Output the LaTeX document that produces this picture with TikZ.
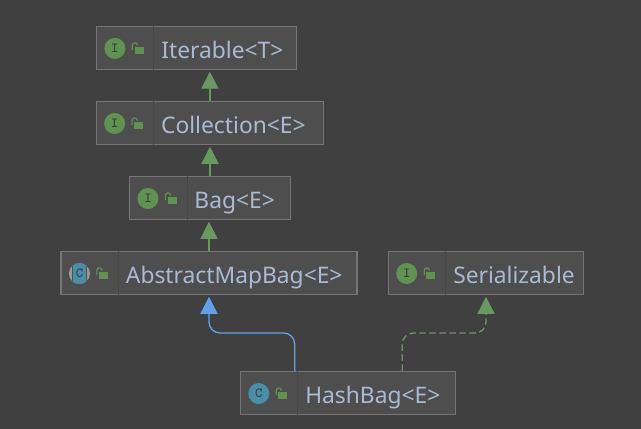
\documentclass[tikz,border=0pt]{standalone}
\usepackage{fontspec}
\setmainfont{Noto Sans}
\usetikzlibrary{arrows.meta, calc, positioning}
\definecolor{canvasbg}{HTML}{404040}
\definecolor{boxbg}{HTML}{4E4E4E}
\definecolor{boxline}{HTML}{767676}
\definecolor{boxdiv}{HTML}{484848}
\definecolor{labeltext}{HTML}{A9BBD3}
\definecolor{implgreen}{HTML}{689A60}
\definecolor{extblue}{HTML}{62A0EA}
\definecolor{icongreen}{HTML}{5F9350}
\definecolor{iconteal}{HTML}{4A8FA8}
\definecolor{icongray}{HTML}{9A9A9A}
\definecolor{icontext}{HTML}{3C3F41}

\begin{document}
\begin{tikzpicture}[x=1pt, y=-1pt]
\tikzset{
  classbox/.style={draw=boxline, fill=boxbg, line width=1.1pt, minimum height=43.4pt, inner sep=0pt},
  classname/.style={anchor=base west, inner sep=0pt, text=labeltext, font=\fontsize{22.8}{26}\selectfont},
  iconbase/.style={circle, minimum size=21pt, inner sep=0pt, text=icontext, font=\ttfamily\bfseries\fontsize{14}{14}\selectfont},
  iconI/.style={iconbase, fill=icongreen},
  iconC/.style={iconbase, fill=iconteal},
  iconA/.style={iconbase, fill=icongray, path picture={
    \fill[boxbg] ($(path picture bounding box.west)+(3,-12)$) rectangle ($(path picture bounding box.east)+(-3,12)$);
    \fill[iconteal] ($(path picture bounding box.west)+(4,-12)$) rectangle ($(path picture bounding box.east)+(-4,12)$);
  }},
  gen/.style={draw=implgreen, line width=1.3pt, shorten >=1.5pt, -{Triangle[length=17pt,width=17pt]}},
  ext/.style={gen, draw=extblue, rounded corners=11pt},
  impl/.style={gen, rounded corners=11pt, dash pattern=on 6.5pt off 3.5pt}
}
  \fill[canvasbg] (0,0) rectangle (641,429);
  \useasboundingbox (0,0) rectangle (641,429);

  % class boxes: name/center x/center y/width/icon/letter/label
  \foreach \nm/\cx/\cy/\w/\ic/\ltr/\lbl in {
    Iterable/196.5/47.9/200.2/I/I/{Iterable<T>},
    Collection/209.9/123/227.4/I/I/{Collection<E>},
    Bag/210/198/161/I/I/{Bag<E>},
    AbstractMapBag/209/273/296/A/C/{AbstractMapBag<E>},
    Serializable/486/273/195.4/I/I/{Serializable},
    HashBag/348/393/215.4/C/C/{HashBag<E>}} {
    \node [classbox, minimum width=\w pt] (\nm) at (\cx,\cy) {};
    \draw [boxdiv, line width=0.8pt] ($(\nm.north west)+(58,0.6)$) -- ($(\nm.south west)+(58,-0.6)$);
    \node [icon\ic] (\nm icon) at ($(\nm.west)+(19,0.5)$) {\ltr};
    \fill [icongreen] ($(\nm icon)+(19.7,-1.6)$) rectangle ($(\nm icon)+(28.7,5.7)$);
    \draw [icongreen, line width=1.2pt] ($(\nm icon)+(17.4,1.5)$) -- ($(\nm icon)+(17.4,-3)$)
      .. controls ($(\nm icon)+(17.6,-6.4)$) and ($(\nm icon)+(22.2,-6.6)$) .. ($(\nm icon)+(22.8,-3)$);
    \node [classname] (\nm label) at ($(\nm.west)+(65.3,10.2)$) {\lbl};
  }

  \coordinate (busY) at (0,333);
  \coordinate (extStart) at ($(HashBag.north)+(-53.3,0)$);
  \coordinate (implStart) at ($(HashBag.north)+(54.3,0)$);

  \draw [gen] (Collection.north) -- (Collection.north |- Iterable.south);
  \draw [gen] (Bag.north) -- (Bag.north |- Collection.south);
  \draw [gen] (AbstractMapBag.north) -- (AbstractMapBag.north |- Bag.south);
  \draw [ext] (extStart) -- (extStart |- busY) -- (AbstractMapBag.south |- busY) -- (AbstractMapBag.south);
  \draw [impl] (implStart) -- (implStart |- busY) -- (Serializable.south |- busY) -- (Serializable.south);
\end{tikzpicture}
\end{document}
